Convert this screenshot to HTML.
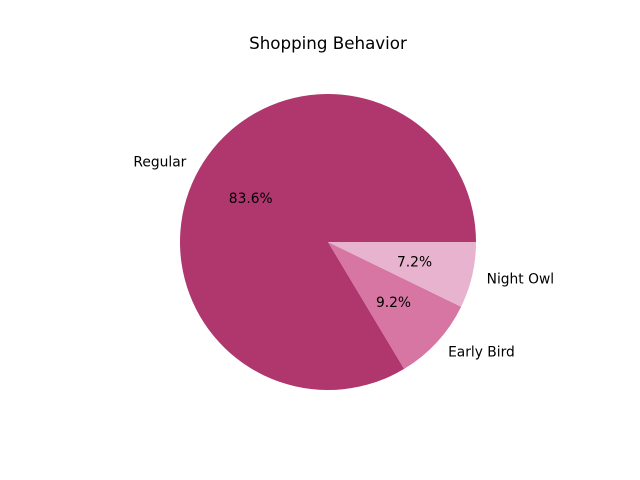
<!DOCTYPE html>
<html><head><meta charset="utf-8"><style>
body{margin:0;background:#fff}
svg{display:block;font-family:"DejaVu Sans","Liberation Sans",sans-serif}
</style></head><body>
<svg id="chart" width="640" height="480" viewBox="0 0 640 480">
<rect width="640" height="480" fill="#fff"/>
<text x="328" y="49" text-anchor="middle" font-size="16.7" fill="#000">Shopping Behavior</text>
<g id="slices"></g>
</svg>
<script>
const categories = ["Regular", "Early Bird", "Night Owl"];
const values = [83.6, 9.2, 7.2];
const colors = ["#b0366e", "#d775a3", "#e8b3ce"];
const cx = 328, cy = 242, r = 148;
const g = document.getElementById('slices');
const NS = "http://www.w3.org/2000/svg";
const total = values.reduce((a,b)=>a+b,0);
let start = 0;
function pt(a, rr){ return [cx + rr*Math.cos(a), cy - rr*Math.sin(a)]; }
values.forEach((v,i)=>{
  const sweep = v/total*2*Math.PI;
  const end = start + sweep;
  const [x1,y1] = pt(start, r), [x2,y2] = pt(end, r);
  const large = sweep > Math.PI ? 1 : 0;
  const p = document.createElementNS(NS,'path');
  p.setAttribute('d', `M${cx},${cy} L${x1},${y1} A${r},${r} 0 ${large} 0 ${x2},${y2} Z`);
  p.setAttribute('fill', colors[i]);
  
  
  g.appendChild(p);
  const mid = start + sweep/2;
  const [lx,ly] = pt(mid, 1.1*r);
  const t = document.createElementNS(NS,'text');
  t.setAttribute('x', lx); t.setAttribute('y', ly + 4.8);
  t.setAttribute('font-size', '13.8');
  t.setAttribute('text-anchor', Math.cos(mid) < 0 ? 'end' : 'start');
  t.textContent = categories[i];
  
  
  g.appendChild(t);
  const [px,py] = pt(mid, 0.6*r);
  const pc = document.createElementNS(NS,'text');
  pc.setAttribute('x', px); pc.setAttribute('y', py + 4.8);
  pc.setAttribute('font-size', '13.8');
  pc.setAttribute('text-anchor', 'middle');
  pc.textContent = (v/total*100).toFixed(1) + '%';
  
  
  g.appendChild(pc);
  start = end;
});
</script>
</body></html>
